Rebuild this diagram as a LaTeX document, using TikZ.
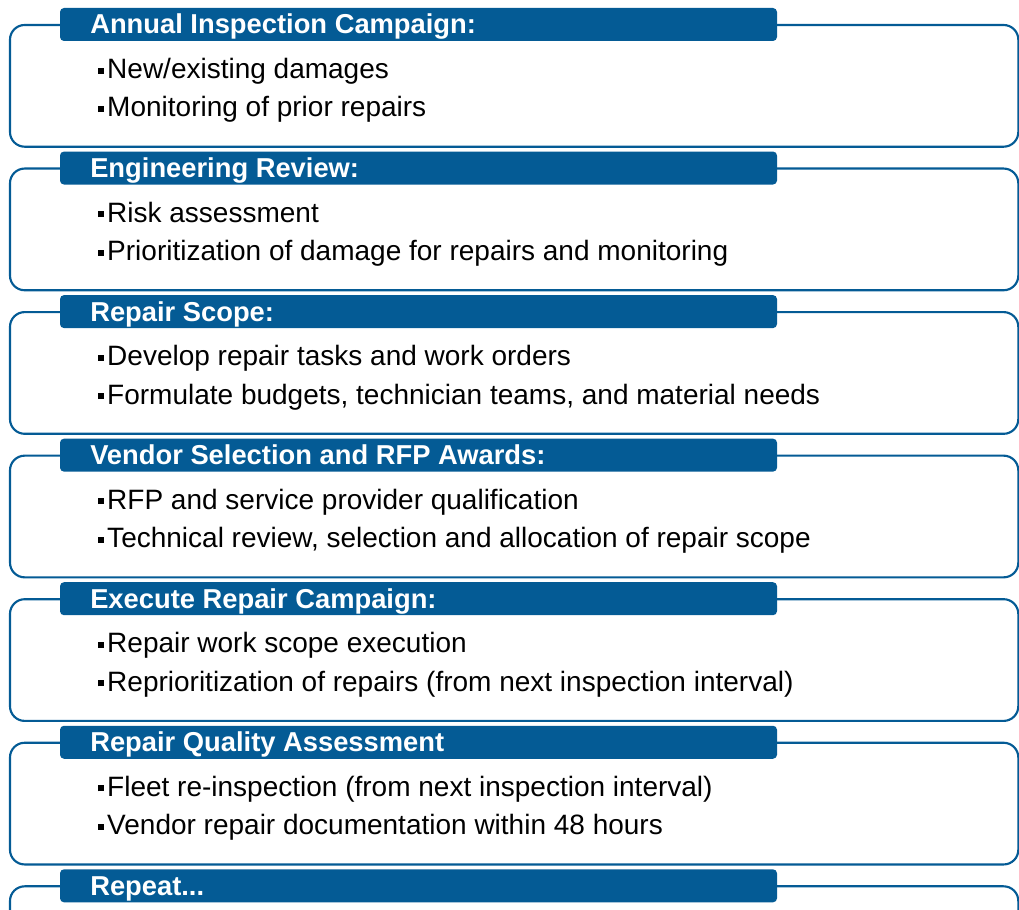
\documentclass[tikz,border=0pt]{standalone}
\usepackage{fontspec}
\setmainfont{Liberation Sans}
\usepackage{tikz}

\definecolor{campblue}{HTML}{045B95}
\newcommand{\blt}{\rule[3.7pt]{4.5pt}{4.5pt}\hspace{2.6pt}}

\begin{document}
\begin{tikzpicture}[x=0.75pt,y=-0.75pt]

	\tikzstyle stage frame=[draw=campblue, line width=1.6pt, rounded corners=11pt];
	\tikzstyle stage bar=[fill=campblue, rounded corners=3pt];
	\tikzstyle stage title=[anchor=base west, inner sep=0pt, text=white, font=\fontsize{20.5}{24}\selectfont\bfseries];
	\tikzstyle stage item=[anchor=base west, inner sep=0pt, text=black, font=\fontsize{21}{24}\selectfont];

	\clip (0,0) rectangle (1019,909);

	% annual inspection
	\draw[stage frame] (10,25) rectangle (1018.3,146.7);
	\fill[stage bar] (60,8) rectangle (777,41);
	\node[stage title] (title1) at (90,34) {Annual Inspection Campaign:};
	\node[stage item] (item1a) at (97.5,78.5) {\blt New/existing damages};
	\node[stage item] (item1b) at (97.5,117) {\blt Monitoring of prior repairs};

	% engineering review
	\draw[stage frame] (10,168.55) rectangle (1018.3,290.25);
	\fill[stage bar] (60,151.55) rectangle (777,184.55);
	\node[stage title] (title2) at (90,177.55) {Engineering Review:};
	\node[stage item] (item2a) at (97.5,222.05) {\blt Risk assessment};
	\node[stage item] (item2b) at (97.5,260.55) {\blt Prioritization of damage for repairs and monitoring};

	% repair scope
	\draw[stage frame] (10,312.1) rectangle (1018.3,433.8);
	\fill[stage bar] (60,295.1) rectangle (777,328.1);
	\node[stage title] (title3) at (90,321.1) {Repair Scope:};
	\node[stage item] (item3a) at (97.5,365.6) {\blt Develop repair tasks and work orders};
	\node[stage item] (item3b) at (97.5,404.1) {\blt Formulate budgets, technician teams, and material needs};

	% vendor selection
	\draw[stage frame] (10,455.65) rectangle (1018.3,577.35);
	\fill[stage bar] (60,438.65) rectangle (777,471.65);
	\node[stage title] (title4) at (90,464.65) {Vendor Selection and RFP Awards:};
	\node[stage item] (item4a) at (97.5,509.15) {\blt RFP and service provider qualification};
	\node[stage item] (item4b) at (97.5,547.65) {\blt Technical review, selection and allocation of repair scope};

	% execute campaign
	\draw[stage frame] (10,599.2) rectangle (1018.3,720.9);
	\fill[stage bar] (60,582.2) rectangle (777,615.2);
	\node[stage title] (title5) at (90,608.2) {Execute Repair Campaign:};
	\node[stage item] (item5a) at (97.5,652.7) {\blt Repair work scope execution};
	\node[stage item] (item5b) at (97.5,691.2) {\blt Reprioritization of repairs (from next inspection interval)};

	% quality assessment
	\draw[stage frame] (10,742.75) rectangle (1018.3,864.45);
	\fill[stage bar] (60,725.75) rectangle (777,758.75);
	\node[stage title] (title6) at (90,751.75) {Repair Quality Assessment};
	\node[stage item] (item6a) at (97.5,796.25) {\blt Fleet re-inspection (from next inspection interval)};
	\node[stage item] (item6b) at (97.5,834.75) {\blt Vendor repair documentation within 48 hours};

	% repeat
	\draw[stage frame] (10,886.3) rectangle (1018.3,1008);
	\fill[stage bar] (60,869.3) rectangle (777,902.3);
	\node[stage title] (title7) at (90,895.3) {Repeat...};

\end{tikzpicture}
\end{document}
